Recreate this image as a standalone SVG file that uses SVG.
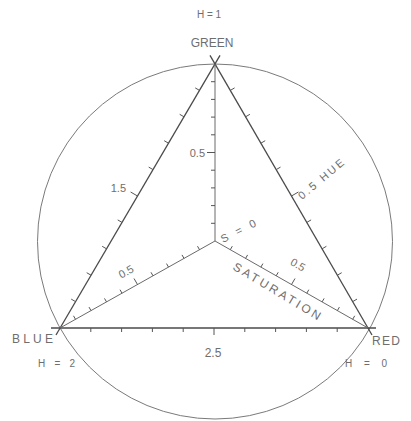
<svg xmlns="http://www.w3.org/2000/svg" width="411" height="421" viewBox="0 0 411 421">
<style>
.circ{fill:none;stroke:#7a7a7a;stroke-width:1}
.edge{fill:none;stroke:#4a4a4a;stroke-width:1.3}
.axis{fill:none;stroke:#6a6a6a;stroke-width:1}
.tick{fill:none;stroke:#555;stroke-width:1}
text{font-family:"Liberation Sans",Arial,sans-serif;fill:#6e6e6e}
.lbl{font-size:12px}
.sm{font-size:10px}
.num{font-size:11px}
</style>
<rect width="411" height="421" fill="#fff"/>
<g id="circle"><circle class="circ" cx="215" cy="241.5" r="177.5"/></g>
<g id="connectors">
  <line class="edge" x1="220" y1="55.4" x2="56" y2="335"/>
  <line class="edge" x1="210" y1="55.4" x2="372" y2="335"/>
  <line class="edge" x1="51" y1="328" x2="376" y2="328"/>
  <line class="axis" x1="215" y1="241" x2="215" y2="64"/>
  <line class="axis" x1="215" y1="241" x2="60" y2="328"/>
  <line class="axis" x1="215" y1="241" x2="368" y2="328"/>
  <path class="tick" d="M199.5,90.4L195.2,87.9M184,116.8L179.7,114.3M168.5,143.2L164.2,140.7M153,169.6L148.7,167.1M137.5,196L130.6,192M122,222.4L117.7,219.9M106.5,248.8L102.2,246.3M91,275.2L86.7,272.7M75.5,301.6L71.2,299.1"/>
  <path class="tick" d="M230.3,90.4L234.6,87.9M245.6,116.8L249.9,114.3M260.9,143.2L265.2,140.7M276.2,169.6L280.5,167.1M291.5,196L298.4,192M306.8,222.4L311.1,219.9M322.1,248.8L326.4,246.3M337.4,275.2L341.7,272.7M352.7,301.6L357,299.1"/>
  <path class="tick" d="M90.8,328v4M121.6,328v4M152.4,328v4M183.2,328v4M214,328v7M244.8,328v4M275.6,328v4M306.4,328v4M337.2,328v4"/>
  <path class="tick" d="M215,223.3h-4M215,205.6h-4M215,187.9h-4M215,170.2h-4M215,152.5h-8M215,134.8h-4M215,117.1h-4M215,99.4h-4M215,81.7h-4"/>
  <path class="tick" d="M199.5,249.7l-2,-3.5M184,258.4l-2,-3.5M168.5,267.1l-2,-3.5M153,275.8l-2,-3.5M137.5,284.5l-3.5,-6M122,293.2l-2,-3.5M106.5,301.9l-2,-3.5M91,310.6l-2,-3.5M75.5,319.3l-2,-3.5"/>
  <path class="tick" d="M230.3,249.7l2,-3.5M245.6,258.4l2,-3.5M260.9,267.1l2,-3.5M276.2,275.8l2,-3.5M291.5,284.5l3.5,-6M306.8,293.2l2,-3.5M322.1,301.9l2,-3.5M337.4,310.6l2,-3.5M352.7,319.3l2,-3.5"/>
</g>
<g id="green"><text class="sm" x="209" y="18" text-anchor="middle">H = 1</text><text class="lbl" x="212" y="47" text-anchor="middle">GREEN</text></g>
<g id="blue"><text class="lbl" x="12" y="343" textLength="41" lengthAdjust="spacing">BLUE</text><text class="sm" x="38" y="367" textLength="37" lengthAdjust="spacing">H = 2</text></g>
<g id="red"><text class="lbl" x="372" y="345" textLength="28" lengthAdjust="spacing">RED</text><text class="sm" x="345" y="367" textLength="42" lengthAdjust="spacing">H = 0</text></g>
<g id="labels">
  <text class="num" x="205" y="157" text-anchor="end">0.5</text>
  <text class="num" x="126" y="192" text-anchor="end">1.5</text>
  <text class="lbl" x="213" y="357" text-anchor="middle">2.5</text>
  <text class="num" transform="translate(302,200) rotate(-40)" textLength="56" lengthAdjust="spacing">0.5 HUE</text>
  <text class="num" transform="translate(128,275) rotate(-29)" text-anchor="middle">0.5</text>
  <text class="num" transform="translate(296,268) rotate(30)" text-anchor="middle">0.5</text>
  <text class="num" transform="translate(223,243) rotate(-27)" textLength="38" lengthAdjust="spacing">S = 0</text>
  <text class="lbl" transform="translate(232,269) rotate(31)" textLength="100" lengthAdjust="spacing">SATURATION</text>
</g>
</svg>
